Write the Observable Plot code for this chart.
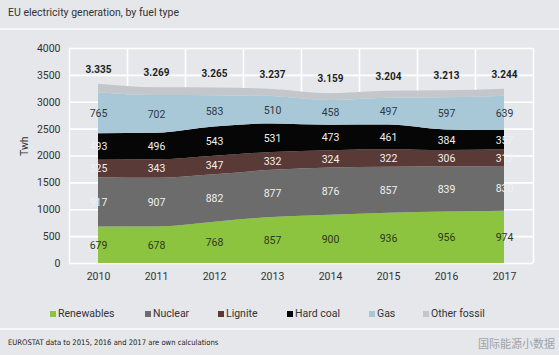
<!DOCTYPE html>
<html>
<head>
<meta charset="utf-8">
<script src="https://cdn.jsdelivr.net/npm/d3@7"></script>
<script src="https://cdn.jsdelivr.net/npm/@observablehq/plot@0.6"></script>
<style>
  html, body { margin: 0; padding: 0; }
  body { width: 559px; height: 355px; background: #e5e7ea; font-family: Roboto, "Noto Sans", sans-serif; color: #2a2a2a; position: relative; overflow: hidden; }
  #title { position: absolute; left: 8px; top: 6px; font-size: 10.5px; color: #333; }
  .sep { position: absolute; left: 0; width: 559px; height: 2px; background: #f6f7f8; }
  #chart { position: absolute; left: 0; top: 31px; }
  #legend { position: absolute; left: 0; top: 307px; width: 559px; height: 16px; font-size: 10.5px; color: #333; }
  .li { position: absolute; top: 0; white-space: nowrap; }
  .sw { display: inline-block; width: 6px; height: 6px; margin-right: 2px; vertical-align: 0px; }
  #foot { position: absolute; left: 8px; top: 338px; font-size: 7.6px; color: #222; font-family: "DejaVu Sans Condensed", Roboto, sans-serif; }
  #wm { position: absolute; left: 478px; top: 335px; font-size: 11px; color: #a0a3a8; font-family: "Noto Sans CJK SC", sans-serif; }
</style>
</head>
<body>
<div id="title">EU electricity generation, by fuel type</div>
<div class="sep" style="top:28px"></div>
<div id="chart"></div>
<div id="legend"></div>
<div class="sep" style="top:328px"></div>
<div id="foot">EUROSTAT data to 2015, 2016 and 2017 are own calculations</div>
<div id="wm">国际能源小数据</div>
<script>
const years = [2010, 2011, 2012, 2013, 2014, 2015, 2016, 2017];
const renewables = [679, 678, 768, 857, 900, 936, 956, 974];
const nuclear = [917, 907, 882, 877, 876, 857, 839, 830];
const lignite = [325, 343, 347, 332, 324, 322, 306, 312];
const hardCoal = [493, 496, 543, 531, 473, 461, 384, 357];
const gas = [765, 702, 583, 510, 458, 497, 597, 639];
const otherFossil = [156, 143, 142, 130, 128, 131, 131, 132];
const totals = [3335, 3269, 3265, 3237, 3159, 3204, 3213, 3244];
const yTicks = [0, 500, 1000, 1500, 2000, 2500, 3000, 3500, 4000];

const seriesNames = ["Renewables", "Nuclear", "Lignite", "Hard coal", "Gas", "Other fossil"];
const seriesValues = [renewables, nuclear, lignite, hardCoal, gas, otherFossil];
const colors = ["#8cc43f", "#6c6c6c", "#5a3a36", "#060606", "#a9c8d7", "#c3c6ca"];
const labelColors = ["#2c3a1c", "#f0f0f0", "#f0f0f0", "#f0f0f0", "#2b3a44", null];

const rows = [];
seriesNames.forEach((name, si) => {
  years.forEach((yr, i) => rows.push({year: yr, series: name, value: seriesValues[si][i], si}));
});

// label rows: midpoint of each band
const labels = [];
years.forEach((yr, i) => {
  let base = 0;
  seriesValues.forEach((vals, si) => {
    const v = vals[i];
    if (labelColors[si]) labels.push({year: yr, mid: base + v / 2, text: String(v), color: labelColors[si]});
    base += v;
  });
});

const fmtTotal = t => `${Math.floor(t / 1000)}.${String(t % 1000).padStart(3, "0")}`;
const totalRows = years.map((yr, i) => ({year: yr, y: totals[i] + 270, text: fmtTotal(totals[i])}));

const chart = Plot.plot({
  width: 559,
  height: 269,
  marginLeft: 69,
  marginRight: 26,
  marginTop: 17,
  marginBottom: 37,
  style: {background: "transparent", fontFamily: "Roboto, 'Noto Sans', sans-serif"},
  x: {domain: [2009.5, 2017.5], axis: null},
  y: {domain: [0, 4000], axis: null},
  color: {domain: seriesNames, range: colors},
  marks: [
    Plot.ruleY(yTicks, {stroke: "#ffffff", strokeWidth: 1.6}),
    Plot.ruleX(d3.range(2009.5, 2018, 1), {stroke: "#ffffff", strokeWidth: 1.6}),
    Plot.areaY(rows, Plot.stackY({x: "year", y: "value", z: "series", fill: "series", order: seriesNames, curve: "monotone-x"})),
    Plot.text(labels, {x: "year", y: "mid", text: "text", fill: d => d.color, fontSize: 10.5}),
    Plot.text(totalRows, {x: "year", y: "y", text: "text", fontWeight: "bold", fontSize: 10, fill: "#1e1e1e"}),
    Plot.axisY(yTicks, {tickSize: 0, tickPadding: 9, fontSize: 10.5, fill: "#333", tickFormat: d => String(d), label: null}),
    Plot.axisX(years, {tickSize: 0, tickPadding: 9, fontSize: 10.5, fill: "#333", tickFormat: d => String(d), label: null}),
    Plot.text(["Twh"], {frameAnchor: "left", y: [2000], dx: -45, rotate: -90, fontSize: 10.5, fill: "#333"})
  ]
});
document.getElementById("chart").appendChild(chart);

const legendPos = [50, 145, 218, 287, 369, 423];
const legend = document.getElementById("legend");
seriesNames.forEach((name, i) => {
  const el = document.createElement("div");
  el.className = "li";
  el.style.left = legendPos[i] + "px";
  el.innerHTML = `<span class="sw" style="background:${colors[i]}"></span>${name}`;
  legend.appendChild(el);
});
</script>
</body>
</html>
